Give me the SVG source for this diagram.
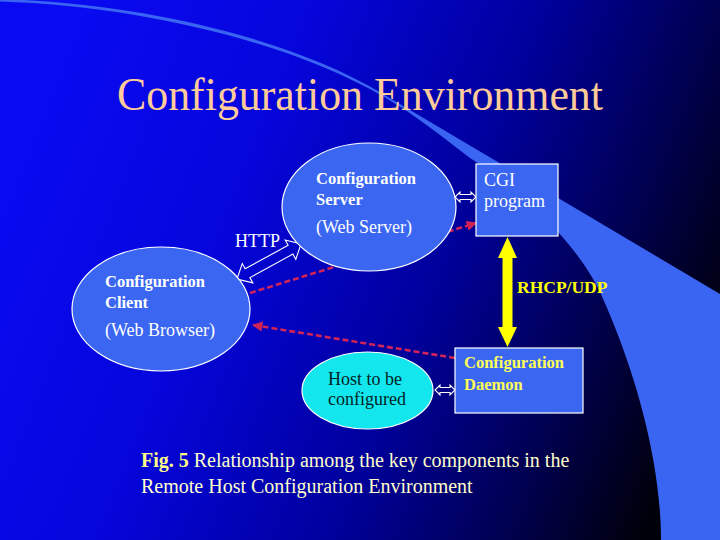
<svg xmlns="http://www.w3.org/2000/svg" width="720" height="540" viewBox="0 0 720 540">
  <defs>
    <linearGradient id="bg" x1="0" y1="0.35" x2="1" y2="0.65">
      <stop offset="0" stop-color="#0A0AF2"/>
      <stop offset="0.3" stop-color="#0505DC"/>
      <stop offset="0.6" stop-color="#00009C"/>
      <stop offset="0.82" stop-color="#000050"/>
      <stop offset="1" stop-color="#000008"/>
    </linearGradient>
    <marker id="redHead" viewBox="0 0 10 10" refX="9" refY="5" markerWidth="4" markerHeight="4" orient="auto" markerUnits="strokeWidth">
      <path d="M0,0 L10,5 L0,10 Z" fill="#D02458"/>
    </marker>
    <style>
      .serif { font-family: "Liberation Serif", "Times New Roman", serif; }
      .node { fill: #3A66F2; stroke: #FFFFFF; stroke-width: 1.2; }
      .host { fill: #14E6EE; stroke: #FFFFFF; stroke-width: 1.2; }
      .lbl { fill: #FFFFFF; font-size: 18px; }
      .blbl { fill: #FFFFFF; font-size: 16.5px; font-weight: bold; }
      .ylbl { fill: #FFFF55; font-size: 16.5px; font-weight: bold; }
      .hollow { fill: none; stroke: #FFFFFF; stroke-width: 1.1; stroke-linejoin: miter; }
      .red { fill: none; stroke: #D02458; stroke-width: 2.6; stroke-dasharray: 6 3; }
    </style>
  </defs>

  <rect x="0" y="0" width="720" height="540" fill="url(#bg)"/>
  <path id="swoosh" d="M0,-1 C140,3 290,38 383,94 L720,294 L720,540 L661,540 C661,470 640,380 600,292 C580,250 530,195 470,158 C440,135 415,115 385,97.5 C290,42 140,6 0,1.5 Z" fill="#3A64F2"/>

  <text class="serif" x="117" y="110" font-size="46" fill="#FFCC99" textLength="486" lengthAdjust="spacingAndGlyphs">Configuration Environment</text>

  <g id="connectors">
    <path class="hollow" transform="translate(237,279) rotate(-28.7)" d="M0,0 L12,-11 L12,-5 L61,-5 L61,-11 L73,0 L61,11 L61,5 L12,5 L12,11 Z"/>
    <path class="hollow" d="M455,197 L460,192 L460,194.5 L471,194.5 L471,192 L476,197 L471,202 L471,199.5 L460,199.5 L460,202 Z"/>
    <path class="hollow" d="M435,390 L440,385 L440,387.5 L450,387.5 L450,385 L455,390 L450,395 L450,392.5 L440,392.5 L440,395 Z"/>
    <path d="M507.5,237 L517,258 L512.5,258 L512.5,327 L517,327 L507.5,347 L498,327 L502.5,327 L502.5,258 L498,258 Z" fill="#FFFF00"/>
    <line class="red" x1="250" y1="293" x2="476" y2="223" marker-end="url(#redHead)"/>
    <line class="red" x1="455" y1="358" x2="253" y2="325" marker-end="url(#redHead)"/>
    <text class="serif lbl" x="235" y="247" font-size="17">HTTP</text>
    <text class="serif" x="517" y="293" font-size="17.5" font-weight="bold" fill="#FFFF00">RHCP/UDP</text>
  </g>

  <g id="config-server">
    <ellipse class="node" cx="369" cy="207" rx="87" ry="64"/>
    <text class="serif blbl" x="316" y="184">Configuration</text>
    <text class="serif blbl" x="316" y="205">Server</text>
    <text class="serif lbl" x="316" y="233">(Web Server)</text>
  </g>

  <g id="config-client">
    <ellipse class="node" cx="161" cy="309" rx="89" ry="62"/>
    <text class="serif blbl" x="105" y="287">Configuration</text>
    <text class="serif blbl" x="105" y="308">Client</text>
    <text class="serif lbl" x="105" y="336">(Web Browser)</text>
  </g>

  <g id="cgi-program">
    <rect class="node" x="476" y="164" width="82" height="72"/>
    <text class="serif lbl" x="484" y="186">CGI</text>
    <text class="serif lbl" x="484" y="207">program</text>
  </g>

  <g id="config-daemon">
    <rect class="node" x="455" y="348" width="128" height="65"/>
    <text class="serif ylbl" x="464" y="368">Configuration</text>
    <text class="serif ylbl" x="464" y="390">Daemon</text>
  </g>

  <g id="host">
    <ellipse class="host" cx="367.5" cy="390.5" rx="65.5" ry="38.5"/>
    <text class="serif" x="328" y="385" font-size="18" fill="#002424">Host to be</text>
    <text class="serif" x="328" y="405" font-size="18" fill="#002424">configured</text>
  </g>

  <g id="caption" class="serif" font-size="20" fill="#FFFFCC">
    <text x="141" y="467"><tspan font-weight="bold" fill="#FFFF88">Fig. 5</tspan> Relationship among the key components in the</text>
    <text x="141" y="493">Remote Host Configuration Environment</text>
  </g>
</svg>
